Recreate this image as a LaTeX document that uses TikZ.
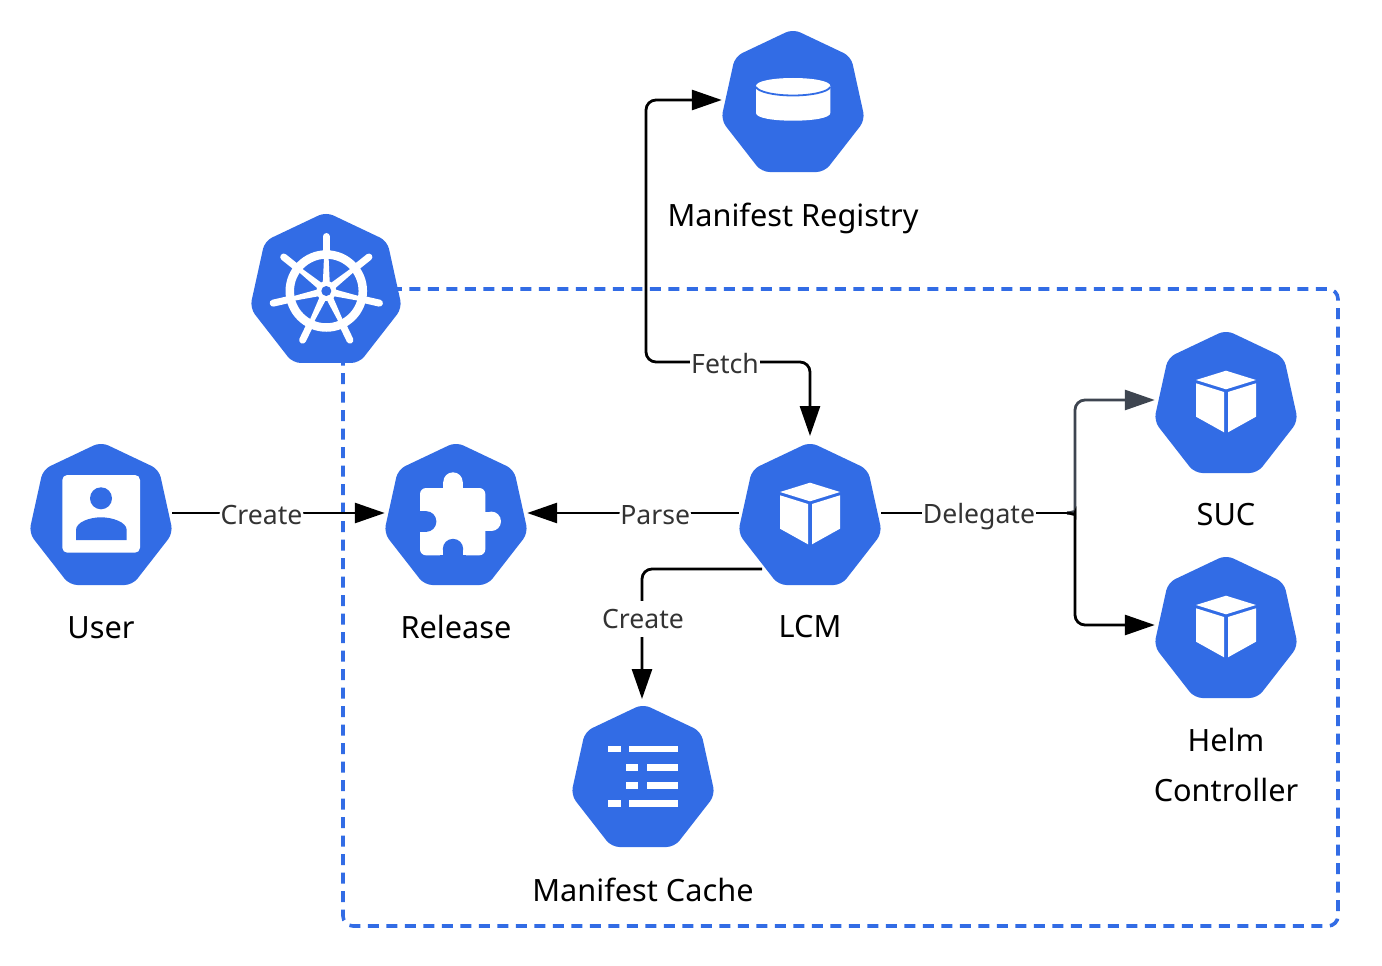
\documentclass[tikz,border=0pt]{standalone}
\usepackage{fontspec}
\setmainfont{Noto Sans}
\usetikzlibrary{arrows.meta,calc}
\definecolor{kblue}{HTML}{326CE5}
\definecolor{slate}{HTML}{3E4550}
\definecolor{lbl}{HTML}{333333}
\tikzset{
  hbox/.style={rectangle,draw=none,fill=none,inner sep=0pt,minimum size=#1},
  title/.style={font=\fontsize{30.7}{38}\selectfont,text=black,inner sep=0pt,anchor=center},
  edgelabel/.style={font=\fontsize{26.6}{32}\selectfont,text=lbl,fill=white,inner sep=1pt,anchor=center},
  conn/.style={draw=black,line width=2.8pt,rounded corners=10pt},
  tip/.style={-{Triangle[length=30pt,width=20pt]}},
  dtip/.style={{Triangle[length=30pt,width=20pt]}-{Triangle[length=30pt,width=20pt]}},
  glyph/.style={fill=white,draw=none},
  frame/.style={draw=kblue,line width=3.6pt,dash pattern=on 11pt off 7.5pt,rounded corners=10pt}
}
% name, x, y (centre of the icon's box), scale
\newcommand{\hepnode}[4]{%
  \node[hbox=#4*142pt] (#1) at (#2,#3) {};
  \fill[kblue,rounded corners=8pt,shift={(#1.center)},scale=#4]
    (0,-72) -- (58,-44.5) -- (72,19) -- (31.5,71) -- (-31.5,71) -- (-72,19) -- (-58,-44.5) -- cycle;
}
\newcommand{\cubeglyph}[1]{%
  \fill[glyph] ($(#1)+(0,-31.3)$) -- ($(#1)+(30,-22)$) -- ($(#1)+(0,-12.7)$) -- ($(#1)+(-30,-22)$) -- cycle;
  \fill[glyph] ($(#1)+(-30,-18.7)$) -- ($(#1)+(-2,-10)$) -- ($(#1)+(-2,30.3)$) -- ($(#1)+(-30,14.7)$) -- cycle;
  \fill[glyph] ($(#1)+(30,-18.7)$) -- ($(#1)+(2,-10)$) -- ($(#1)+(2,30.3)$) -- ($(#1)+(30,14.7)$) -- cycle;
}
\begin{document}
\begin{tikzpicture}[x=1pt,y=-1pt]
\useasboundingbox (0,0) rectangle (1382,966);
\fill[white] (0,0) rectangle (1382,966);

% frame
\draw[frame] (343,289) rectangle (1338,926);

% icons
\hepnode{user}{101}{514}{1}
\hepnode{release}{456}{514}{1}
\hepnode{lcm}{810}{514}{1}
\hepnode{registry}{793}{101}{1}
\hepnode{suc}{1226}{402}{1}
\hepnode{helm}{1226}{627}{1}
\hepnode{cache}{643}{776}{1}
\hepnode{kube}{326}{288}{1.056}

% user glyph
\fill[glyph,rounded corners=5pt] (62.3,475) rectangle (140,552.7);
\fill[kblue] (101,498.3) circle (11);
\fill[kblue] (76,540) -- (76,530) .. controls (76,522) and (90,517.3) .. (101,517.3) .. controls (112,517.3) and (126.7,522) .. (126.7,530) -- (126.7,540) -- cycle;

% puzzle glyph
\fill[glyph,rounded corners=6pt] (420,488) rectangle (485.3,555.3);
\fill[glyph] (453,482) circle (9.7);
\fill[glyph] (443.3,482) rectangle (462.7,490);
\fill[glyph] (491.3,521.3) circle (9.7);
\fill[glyph] (483,511.6) rectangle (491.3,531);
\fill[kblue] (426,521.5) circle (10.4);
\fill[kblue] (415,511.1) rectangle (426,531.9);
\fill[kblue] (453,549) circle (10.2);
\fill[kblue] (442.8,549) rectangle (463.2,558);
\fill[kblue] (414,500) rectangle (420,560);
\fill[kblue] (440,555.3) rectangle (466,560);

% list glyph
\foreach \ya/\yb in {746/752,800/806.7}{
  \fill[glyph] (608,\ya) rectangle (621,\yb);
  \fill[glyph] (629,\ya) rectangle (678,\yb);
}
\foreach \ya/\yb in {764/770.7,782/788.7}{
  \fill[glyph] (626,\ya) rectangle (638,\yb);
  \fill[glyph] (647,\ya) rectangle (678,\yb);
}

% cylinder glyph
\fill[glyph] (756,86) .. controls (756,81) and (773,78) .. (793,78) .. controls (813,78) and (830.3,81) .. (830.3,86) -- (830.3,113) .. controls (830.3,118) and (813,120.7) .. (793,120.7) .. controls (773,120.7) and (756,118) .. (756,113) -- cycle;
\draw[kblue,line width=1.8pt] (756,87) .. controls (758,92) and (775,95.5) .. (793,95.5) .. controls (811,95.5) and (828,92) .. (830.3,87);

% cube glyphs
\coordinate (lcm-c) at (810,514);
\coordinate (suc-c) at (1226,402);
\coordinate (helm-c) at (1226,627);
\cubeglyph{lcm-c}
\cubeglyph{suc-c}
\cubeglyph{helm-c}

% wheel glyph
\coordinate (w) at (326.3,291);
\draw[white,line width=8.5pt] (w) circle (36.5);
\fill[white] (w) circle (10);
\fill[kblue] (w) circle (5);
\foreach \a in {90,38.57,-12.86,-64.29,-115.71,-167.14,141.43}{
  \fill[white] ($(w)+(-\a:9)+(-\a+90:3.4)$) -- ($(w)+(-\a:36)+(-\a+90:2.2)$) -- ($(w)+(-\a:36)+(-\a-90:2.2)$) -- ($(w)+(-\a:9)+(-\a-90:3.4)$) -- cycle;
  \draw[white,line width=7pt,line cap=round] ($(w)+(-\a:39)$) -- ($(w)+(-\a:54.5)$);
}

% connectors
\coordinate (userout) at ($(user.east)+(0,-1)$);
\coordinate (relin) at ($(release.west)+(0,-1)$);
\coordinate (relout) at ($(release.east)+(0,-1)$);
\coordinate (lcmw) at ($(lcm.west)+(0,-1)$);
\coordinate (lcmlow) at (762,569);
\coordinate (lcmin) at (810,436);
\coordinate (lcme) at ($(lcm.east)+(0,-1)$);
\coordinate (regin) at ($(registry.west)+(0,-1)$);
\coordinate (cachein) at (642,699);
\coordinate (sucin) at ($(suc.west)+(0,-2)$);
\coordinate (helmin) at ($(helm.west)+(0,-2)$);
\coordinate (fork) at (1067,513);

\draw[conn,tip] (userout) -- (relin) node[edgelabel,pos=0.42,yshift=-1.5pt] (lab1) {Create};
\draw[conn,tip] (lcmw) -- (relout) node[edgelabel,pos=0.395,yshift=-2pt] (lab2) {Parse};
\draw[conn,tip] (lcmlow) -- (642,569) -- (cachein);
\node[edgelabel,minimum height=36pt] (lab3) at (643,619) {Create};
\draw[conn,dtip] (regin) -- (646,100) -- (646,362) -- (810,362) -- (lcmin);
\node[edgelabel] (lab4) at (725,364) {Fetch};
\draw[conn] (lcme) -- (fork);
\draw[conn,draw=slate,tip] (fork) .. controls (1072,513) and (1075,510) .. (1075,503) -- (1075,400) -- (sucin);
\draw[conn,tip] (fork) .. controls (1072,513) and (1075,516) .. (1075,523) -- (1075,625) -- (helmin);
\node[edgelabel] (lab5) at (979,517) {Delegate};

% titles
\node[title] (t1) at (793,218) {Manifest Registry};
\node[title] (t2) at (101,627.5) {User};
\node[title] (t3) at (456,627) {Release};
\node[title] (t4) at (810,627) {LCM};
\node[title] (t5) at (1226,515) {SUC};
\node[title] (t6) at (1226,740) {Helm};
\node[title] (t7) at (1226,790) {Controller};
\node[title] (t8) at (643,890) {Manifest Cache};
\end{tikzpicture}
\end{document}
